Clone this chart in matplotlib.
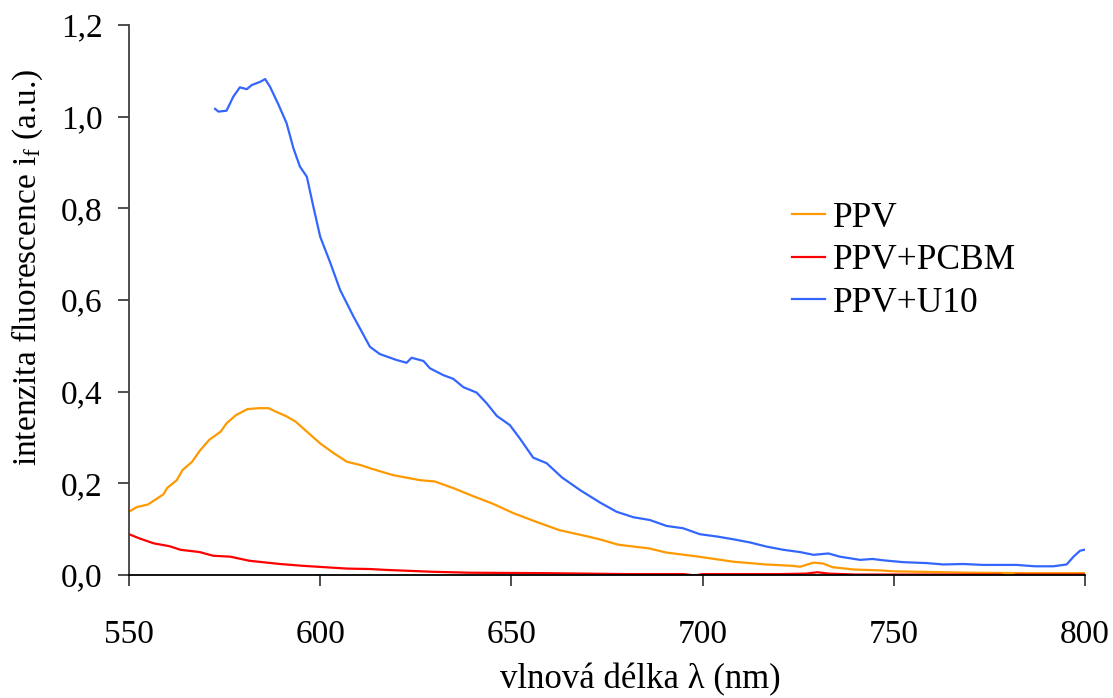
import matplotlib
matplotlib.use("Agg")
import matplotlib.pyplot as plt
from matplotlib.ticker import FuncFormatter

# ---- data ----
ppv_nm = [550, 552, 555, 557, 559, 560, 562.5, 564, 566.5, 568.5, 571, 574, 575.5, 578,
          581, 584, 586.5, 588.5, 591, 593.5, 596.5, 600, 603.5, 607, 610.5, 613, 619,
          626, 630, 635, 640, 645, 650.5, 656.5, 662.5, 670, 673, 678, 686, 690.5, 699,
          708, 716.5, 723.5, 725.5, 729, 731.5, 734, 739.5, 746.5, 750, 757, 770, 785, 800]
ppv_y = [0.138, 0.148, 0.154, 0.165, 0.176, 0.190, 0.207, 0.229, 0.247, 0.271, 0.295,
         0.313, 0.331, 0.349, 0.362, 0.364, 0.364, 0.356, 0.347, 0.335, 0.313, 0.287,
         0.266, 0.247, 0.240, 0.233, 0.218, 0.207, 0.204, 0.189, 0.172, 0.156, 0.135,
         0.116, 0.098, 0.084, 0.078, 0.066, 0.058, 0.049, 0.040, 0.029, 0.023, 0.020,
         0.018, 0.027, 0.025, 0.017, 0.012, 0.010, 0.008, 0.007, 0.005, 0.004, 0.004]

pcbm_nm = [550, 553, 556.5, 560.5, 563.5, 568.5, 572, 576.5, 581.5, 589.5, 595.5, 607,
           613, 617.5, 629.5, 639, 659, 680, 695, 698, 700, 720, 727, 730, 733, 740,
           760, 778, 780, 782, 800]
pcbm_y = [0.089, 0.079, 0.069, 0.063, 0.055, 0.050, 0.042, 0.040, 0.031, 0.024, 0.020,
          0.014, 0.013, 0.011, 0.007, 0.005, 0.004, 0.002, 0.002, -0.001, 0.002, 0.002,
          0.003, 0.006, 0.003, 0.001, 0.001, 0.001, -0.003, 0.001, 0.001]

u10_nm = [572.5, 573.4, 575.5, 577.3, 579.0, 580.8, 582.1, 584.3, 585.6, 586.9, 589.1,
          591.2, 593.0, 594.7, 596.5, 598.2, 600.0, 602.6, 605.2, 608.7, 610.4, 613.0,
          615.6, 620.0, 622.6, 623.9, 627.0, 628.7, 632.2, 634.8, 637.4, 640.9, 643.5,
          646.2, 649.6, 652.2, 655.7, 659.2, 663.2, 668.0, 673.2, 677.5, 681.9, 686.2,
          690.6, 694.9, 699.3, 703.7, 708.0, 712.4, 716.7, 721.1, 725.5, 729.0, 732.9,
          735.9, 741.2, 744.4, 747.3, 752.5, 758.6, 763.0, 768.2, 773.4, 782.1, 786.9,
          791.7, 795.2, 797.0, 798.7, 799.8]
u10_y = [1.017, 1.011, 1.013, 1.044, 1.064, 1.060, 1.069, 1.076, 1.082, 1.065, 1.026,
         0.986, 0.931, 0.891, 0.869, 0.804, 0.738, 0.682, 0.622, 0.564, 0.538, 0.498,
         0.482, 0.469, 0.463, 0.474, 0.467, 0.451, 0.436, 0.428, 0.410, 0.398, 0.375,
         0.347, 0.327, 0.298, 0.256, 0.244, 0.213, 0.185, 0.158, 0.138, 0.126, 0.120,
         0.107, 0.102, 0.089, 0.084, 0.078, 0.071, 0.062, 0.055, 0.050, 0.044, 0.047,
         0.040, 0.033, 0.035, 0.032, 0.028, 0.026, 0.023, 0.024, 0.022, 0.022, 0.019,
         0.019, 0.023, 0.040, 0.053, 0.055]

labels = ["PPV", "PPV+PCBM", "PPV+U10"]
colors = ["#FF9900", "#FF0000", "#3366FF"]
x_ticks = [550, 600, 650, 700, 750, 800]
y_ticks = [0.0, 0.2, 0.4, 0.6, 0.8, 1.0, 1.2]

plt.rcParams['font.family'] = ['Liberation Serif', 'DejaVu Serif']
plt.rcParams['mathtext.fontset'] = 'custom'
plt.rcParams['mathtext.rm'] = 'Liberation Serif'
plt.rcParams['mathtext.it'] = 'Liberation Serif'

fig = plt.figure(figsize=(11.13, 6.98), dpi=100)
ax = fig.add_axes([129/1113, 1-575/698, (1085-129)/1113, (575-25)/698])

for xs, ys, lab, c in zip([ppv_nm, pcbm_nm, u10_nm], [ppv_y, pcbm_y, u10_y], labels, colors):
    ax.plot(xs, ys, color=c, lw=1.6, label=lab)

ax.set_xlim(550, 800)
ax.set_ylim(0, 1.2)
ax.set_xticks(x_ticks)
ax.set_yticks(y_ticks)
ax.yaxis.set_major_formatter(FuncFormatter(lambda v, p: f"{v:.1f}".replace('.', ',')))

for s in ['top', 'right']:
    ax.spines[s].set_visible(False)
ax.spines['left'].set_color('#404040')
ax.spines['bottom'].set_color('#000000')
ax.spines['left'].set_linewidth(1.3)
ax.spines['bottom'].set_linewidth(1.3)
ax.tick_params(axis='both', direction='out', length=8, width=1.3, color='#404040',
               labelsize=24)
ax.tick_params(axis='x', pad=24)
ax.tick_params(axis='y', pad=11)

ax.set_xlabel("vlnová délka λ (nm)", fontsize=25)
ax.xaxis.set_label_coords(0.5345, -0.16)
ax.set_ylabel(r"intenzita fluorescence i$_\mathregular{f}$ (a.u.)", fontsize=24)
ax.yaxis.set_label_coords(-0.088, 0.56)

leg = ax.legend(loc='upper left', bbox_to_anchor=(0.694, 0.679), frameon=False,
                fontsize=25.5, handlelength=0.93, handletextpad=0.2, labelspacing=0.27,
                borderpad=0, borderaxespad=0)

fig.savefig("out.png", dpi=100, facecolor='white')
